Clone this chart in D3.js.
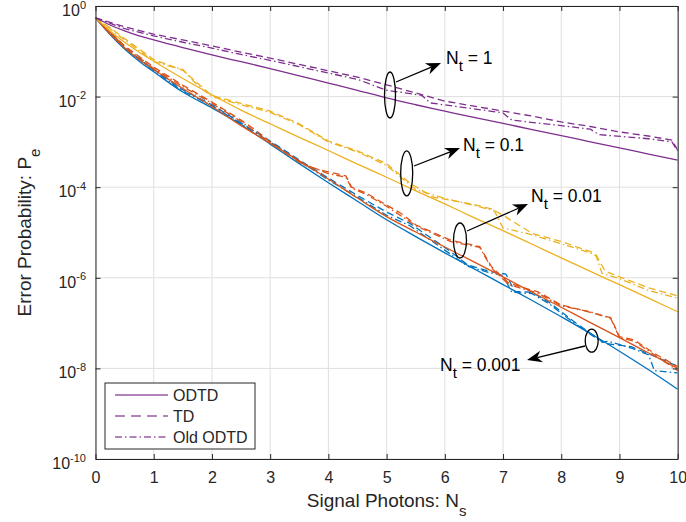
<!DOCTYPE html>
<html><head><meta charset="utf-8">
<script src="https://cdn.jsdelivr.net/npm/d3@7"></script>
<style>
body{margin:0;background:#fff}
svg{display:block}
text{font-family:"Liberation Sans",Arial,Helvetica,sans-serif;fill:#262626}
</style>
</head><body>
<svg id="chart" width="686" height="522"></svg>
<script>
// ---------------- data (Pe given as log10 values) ----------------
const xTickValues = [0,1,2,3,4,5,6,7,8,9,10];
const yTickExponents = [-10,-8,-6,-4,-2,0];
const legendLabels = ["ODTD","TD","Old ODTD"];

const solidX = [0,0.25,0.5,0.75,1,1.5,2,2.5,3,3.5,4,4.5,5,5.5,6,6.5,7,7.5,8,8.5,9,9.5,10];
const odtdNt1    = [-0.26,-0.42,-0.55,-0.66,-0.75,-0.92,-1.08,-1.23,-1.38,-1.54,-1.70,-1.86,-2.03,-2.18,-2.32,-2.46,-2.59,-2.73,-2.86,-3.00,-3.13,-3.27,-3.40];
const odtdNt01   = [-0.26,-0.55,-0.80,-1.02,-1.22,-1.60,-1.96,-2.30,-2.60,-2.90,-3.19,-3.49,-3.78,-4.08,-4.37,-4.67,-4.96,-5.26,-5.56,-5.86,-6.15,-6.45,-6.75];
const odtdNt001  = [-0.26,-0.62,-0.92,-1.18,-1.40,-1.82,-2.22,-2.64,-3.03,-3.42,-3.82,-4.24,-4.65,-4.99,-5.32,-5.65,-5.98,-6.32,-6.65,-6.99,-7.32,-7.66,-8.00];
const odtdNt0001 = [-0.26,-0.63,-0.95,-1.22,-1.45,-1.90,-2.25,-2.62,-3.05,-3.48,-3.90,-4.31,-4.72,-5.09,-5.45,-5.80,-6.15,-6.50,-6.86,-7.23,-7.62,-8.03,-8.46];

const tdNt1X = [0,0.5,1,1.5,2,2.5,3,3.5,4,4.5,5,5.5,6,6.5,7,7.5,8,8.5,9,9.5,9.9,10];
const tdNt1  = [-0.26,-0.46,-0.62,-0.75,-0.88,-1.02,-1.15,-1.29,-1.43,-1.57,-1.74,-1.92,-2.10,-2.21,-2.32,-2.43,-2.56,-2.66,-2.78,-2.87,-2.96,-3.18];
const oldNt1X = [0,0.5,1,1.5,2,2.5,3,3.5,4,4.5,5,5.6,5.75,6.5,7.0,7.15,8.0,8.5,8.65,9.5,9.9,10];
const oldNt1  = [-0.26,-0.50,-0.66,-0.80,-0.93,-1.07,-1.20,-1.34,-1.48,-1.62,-1.86,-1.97,-2.14,-2.27,-2.36,-2.52,-2.64,-2.72,-2.84,-2.93,-3.00,-3.20];

const tdNt01X = [0,0.25,0.5,0.75,1,1.25,1.5,1.75,2,2.5,3,3.5,4,4.5,5,5.4,5.8,6.5,6.8,7,7.5,8,8.5,8.6,8.75,9,9.5,10];
const tdNt01  = [-0.26,-0.48,-0.72,-0.95,-1.18,-1.30,-1.42,-1.70,-1.98,-2.15,-2.32,-2.60,-2.98,-3.20,-3.48,-3.91,-4.22,-4.38,-4.48,-4.62,-5.02,-5.20,-5.42,-5.50,-5.85,-5.98,-6.22,-6.40];
const oldNt01X = [0,0.5,1,1.25,1.5,1.75,2,2.5,3,3.5,4,4.5,5,5.5,6,6.5,6.85,7,7.5,8,8.5,8.6,8.7,9,9.5,10];
const oldNt01  = [-0.26,-0.75,-1.22,-1.32,-1.40,-1.75,-2.00,-2.18,-2.35,-2.62,-3.00,-3.22,-3.52,-4.05,-4.25,-4.40,-4.52,-4.90,-5.05,-5.25,-5.45,-5.52,-5.90,-6.02,-6.28,-6.45];

const tdNt001X = [0,0.5,1,1.5,2,2.5,2.75,3,3.35,3.65,4,4.3,4.4,4.65,4.9,5.25,5.5,6.1,6.6,6.8,7.1,7.6,8.0,8.85,9.0,9.25,9.6,10];
const tdNt001  = [-0.26,-0.88,-1.35,-1.75,-2.12,-2.52,-2.74,-3.00,-3.31,-3.55,-3.66,-3.75,-4.00,-4.13,-4.32,-4.58,-4.83,-5.17,-5.31,-5.75,-6.12,-6.31,-6.60,-6.88,-7.30,-7.37,-7.67,-7.96];
const oldNt001X = [0,0.5,1,1.5,2,2.5,3,3.5,4,4.3,4.4,4.65,5,5.5,6.1,6.6,6.8,7.1,7.6,8.0,8.5,8.85,9.0,9.25,9.6,10];
const oldNt001  = [-0.26,-0.90,-1.38,-1.78,-2.15,-2.55,-3.02,-3.45,-3.70,-3.78,-4.02,-4.16,-4.42,-4.85,-5.20,-5.33,-5.78,-6.15,-6.34,-6.62,-6.75,-6.90,-7.32,-7.40,-7.70,-8.05];

const tdNt0001X = [0,0.5,1,1.5,2,2.5,3,3.5,4,4.5,5,5.4,6.1,6.4,6.75,7.05,7.2,7.5,7.8,8.2,8.75,9.2,9.45,10];
const tdNt0001  = [-0.26,-0.92,-1.40,-1.85,-2.18,-2.58,-2.98,-3.40,-3.80,-4.18,-4.55,-4.80,-5.42,-5.72,-5.85,-5.92,-6.30,-6.32,-6.55,-6.95,-7.45,-7.52,-7.65,-7.95];
const oldNt0001X = [0,0.5,1,1.5,2,2.5,3,3.5,4,4.5,5,5.4,6.1,6.4,6.75,7.0,7.15,7.5,7.8,8.2,8.7,8.8,9.2,9.5,9.6,10];
const oldNt0001  = [-0.26,-0.94,-1.42,-1.88,-2.20,-2.60,-3.00,-3.42,-3.84,-4.22,-4.62,-4.85,-5.48,-5.75,-5.88,-5.95,-6.32,-6.35,-6.58,-6.98,-7.42,-7.40,-7.55,-7.70,-8.05,-8.10];

// ---------------- styles ----------------
const COLORS = {nt1:"#7E2F8E", nt01:"#EDB120", nt001:"#D95319", nt0001:"#0072BD"};
const DASH = {solid:null, dashed:"7,4", dashdot:"7,3,1.5,3"};

const series = [
  {x:solidX, y:odtdNt0001, c:COLORS.nt0001, s:"solid", smooth:true},
  {x:tdNt0001X, y:tdNt0001, c:COLORS.nt0001, s:"dashed"},
  {x:oldNt0001X, y:oldNt0001, c:COLORS.nt0001, s:"dashdot"},
  {x:solidX, y:odtdNt001, c:COLORS.nt001, s:"solid", smooth:true},
  {x:tdNt001X, y:tdNt001, c:COLORS.nt001, s:"dashed"},
  {x:oldNt001X, y:oldNt001, c:COLORS.nt001, s:"dashdot"},
  {x:solidX, y:odtdNt01, c:COLORS.nt01, s:"solid", smooth:true},
  {x:tdNt01X, y:tdNt01, c:COLORS.nt01, s:"dashed"},
  {x:oldNt01X, y:oldNt01, c:COLORS.nt01, s:"dashdot"},
  {x:solidX, y:odtdNt1, c:COLORS.nt1, s:"solid", smooth:true},
  {x:tdNt1X, y:tdNt1, c:COLORS.nt1, s:"dashed"},
  {x:oldNt1X, y:oldNt1, c:COLORS.nt1, s:"dashdot"}
];

// ---------------- layout ----------------
const svg = d3.select("#chart");
const L = 95.5, R = 677.7, T = 6, B = 459;
const x = d3.scaleLinear().domain([0,10]).range([L,R]);
const y = d3.scaleLog().domain([1e-10,1]).range([B,T]);
const AX = "#262626";

// grid
const grid = svg.append("g");
grid.selectAll("line.gx").data(xTickValues).join("line")
  .attr("x1",d=>x(d)).attr("x2",d=>x(d)).attr("y1",T).attr("y2",B)
  .attr("stroke","#DFDFDF").attr("stroke-width",1);
grid.selectAll("line.gy").data(yTickExponents).join("line")
  .attr("y1",d=>y(Math.pow(10,d))).attr("y2",d=>y(Math.pow(10,d))).attr("x1",L).attr("x2",R)
  .attr("stroke","#DFDFDF").attr("stroke-width",1);

// curves
svg.append("clipPath").attr("id","clip").append("rect")
  .attr("x",L).attr("y",T).attr("width",R-L).attr("height",B-T);
const gLines = svg.append("g").attr("clip-path","url(#clip)");
series.forEach(sr=>{
  const pts = sr.x.map((xv,i)=>[xv, Math.pow(10, sr.y[i])]);
  const line = d3.line().x(d=>x(d[0])).y(d=>y(d[1]))
    .curve(sr.smooth ? d3.curveMonotoneX : d3.curveLinear);
  gLines.append("path").attr("d", line(pts))
    .attr("fill","none").attr("stroke",sr.c).attr("stroke-width",1.3)
    .attr("stroke-dasharray", DASH[sr.s]).attr("stroke-linejoin","round");
});

// axes (ticks inward, box)
const tickLen = 5;
const xAxisB = d3.axisBottom(x).tickValues(xTickValues).tickSizeInner(-tickLen).tickSizeOuter(0).tickFormat(d3.format("d"));
const gxb = svg.append("g").attr("transform",`translate(0,${B})`).call(xAxisB);
gxb.select(".domain").attr("stroke",AX);
gxb.selectAll(".tick line").attr("stroke",AX);
gxb.selectAll(".tick text").attr("y",23.5).attr("dy",0).attr("font-size",16)
  .attr("font-family","Liberation Sans, Arial, sans-serif").attr("fill",AX);

const xAxisT = d3.axisTop(x).tickValues(xTickValues).tickSizeInner(-tickLen).tickSizeOuter(0).tickFormat("");
const gxt = svg.append("g").attr("transform",`translate(0,${T})`).call(xAxisT);
gxt.select(".domain").attr("stroke",AX);
gxt.selectAll(".tick line").attr("stroke",AX);

const yVals = yTickExponents.map(e=>Math.pow(10,e));
const yAxisL = d3.axisLeft(y).tickValues(yVals).tickSizeInner(-tickLen).tickSizeOuter(0).tickFormat("");
const gyl = svg.append("g").attr("transform",`translate(${L},0)`).call(yAxisL);
gyl.select(".domain").attr("stroke",AX);
gyl.selectAll(".tick line").attr("stroke",AX);
const yAxisR = d3.axisRight(y).tickValues(yVals).tickSizeInner(-tickLen).tickSizeOuter(0).tickFormat("");
const gyr = svg.append("g").attr("transform",`translate(${R},0)`).call(yAxisR);
gyr.select(".domain").attr("stroke",AX);
gyr.selectAll(".tick line").attr("stroke",AX);

// y tick labels 10^e
yTickExponents.forEach(e=>{
  const ty = y(Math.pow(10,e));
  const t = svg.append("text").attr("x",86).attr("y",ty+10).attr("text-anchor","end").attr("font-size",16);
  t.append("tspan").text("10");
  t.append("tspan").attr("dy",-7.5).attr("font-size",11).text(String(e));
});

// axis labels
const xl = svg.append("text").attr("x",(L+R)/2).attr("y",506.5).attr("text-anchor","middle").attr("font-size",19);
xl.append("tspan").text("Signal Photons: N");
xl.append("tspan").attr("dy",9).attr("font-size",15).text("s");

const yl = svg.append("text").attr("transform",`translate(31,${(T+B)/2}) rotate(-90)`).attr("text-anchor","middle").attr("font-size",19);
yl.append("tspan").text("Error Probability: P");
yl.append("tspan").attr("dy",9).attr("font-size",15).text("e");

// ---------------- annotations ----------------
function arrow(x1,y1,x2,y2){
  const ang = Math.atan2(y2-y1,x2-x1);
  const len = 15, w = 6, ind = 4.5;
  const bx = x2 - len*Math.cos(ang), by = y2 - len*Math.sin(ang);
  const nx = -Math.sin(ang), ny = Math.cos(ang);
  const ix = x2 - (len-ind)*Math.cos(ang), iy = y2 - (len-ind)*Math.sin(ang);
  svg.append("line").attr("x1",x1).attr("y1",y1).attr("x2",ix).attr("y2",iy)
    .attr("stroke","#000").attr("stroke-width",1.3);
  svg.append("path").attr("d",`M${x2},${y2}L${bx+nx*w},${by+ny*w}L${ix},${iy}L${bx-nx*w},${by-ny*w}Z`)
    .attr("fill","#000");
}
function ellipse(cx,cy,rx,ry){
  svg.append("ellipse").attr("cx",cx).attr("cy",cy).attr("rx",rx).attr("ry",ry)
    .attr("fill","none").attr("stroke","#000").attr("stroke-width",1.3);
}
function label(tx,ty,val,anchor){
  const t = svg.append("text").attr("x",tx).attr("y",ty).attr("font-size",17.5).attr("fill","#000")
    .attr("text-anchor",anchor||"start");
  t.append("tspan").attr("fill","#000").text("N");
  t.append("tspan").attr("dy",7.5).attr("font-size",15).attr("fill","#000").text("t");
  t.append("tspan").attr("dy",-7.5).attr("fill","#000").text(" = "+val);
}
ellipse(390,95,5.5,23);   arrow(396,82,441,63);   label(446,63.5,"1");
ellipse(406.7,173.3,6,22.5); arrow(414,166,460,148); label(463,150.5,"0.1");
ellipse(460,240.5,6.5,17.5); arrow(467,231,528,204); label(531,201.5,"0.01");
ellipse(591.7,340.7,6.5,11.5); arrow(585,346,527,360); label(440,370.5,"0.001");

// ---------------- legend ----------------
const lg = svg.append("g");
lg.append("rect").attr("x",105).attr("y",383).attr("width",150).attr("height",66)
  .attr("fill","#fff").attr("stroke",AX).attr("stroke-width",1);
const legendStyles = ["solid","dashed","dashdot"];
legendLabels.forEach((lab,i)=>{
  const ly = 395 + i*21;
  lg.append("line").attr("x1",115).attr("x2",168).attr("y1",ly).attr("y2",ly)
    .attr("stroke",COLORS.nt1).attr("stroke-opacity",0.8).attr("stroke-width",1.3)
    .attr("stroke-dasharray", legendStyles[i]==="dashed" ? "10,6" : legendStyles[i]==="dashdot" ? "7,3,1.5,3" : null);
  lg.append("text").attr("x",173).attr("y",ly+5.5).attr("font-size",16).text(lab);
});
</script>
</body></html>
